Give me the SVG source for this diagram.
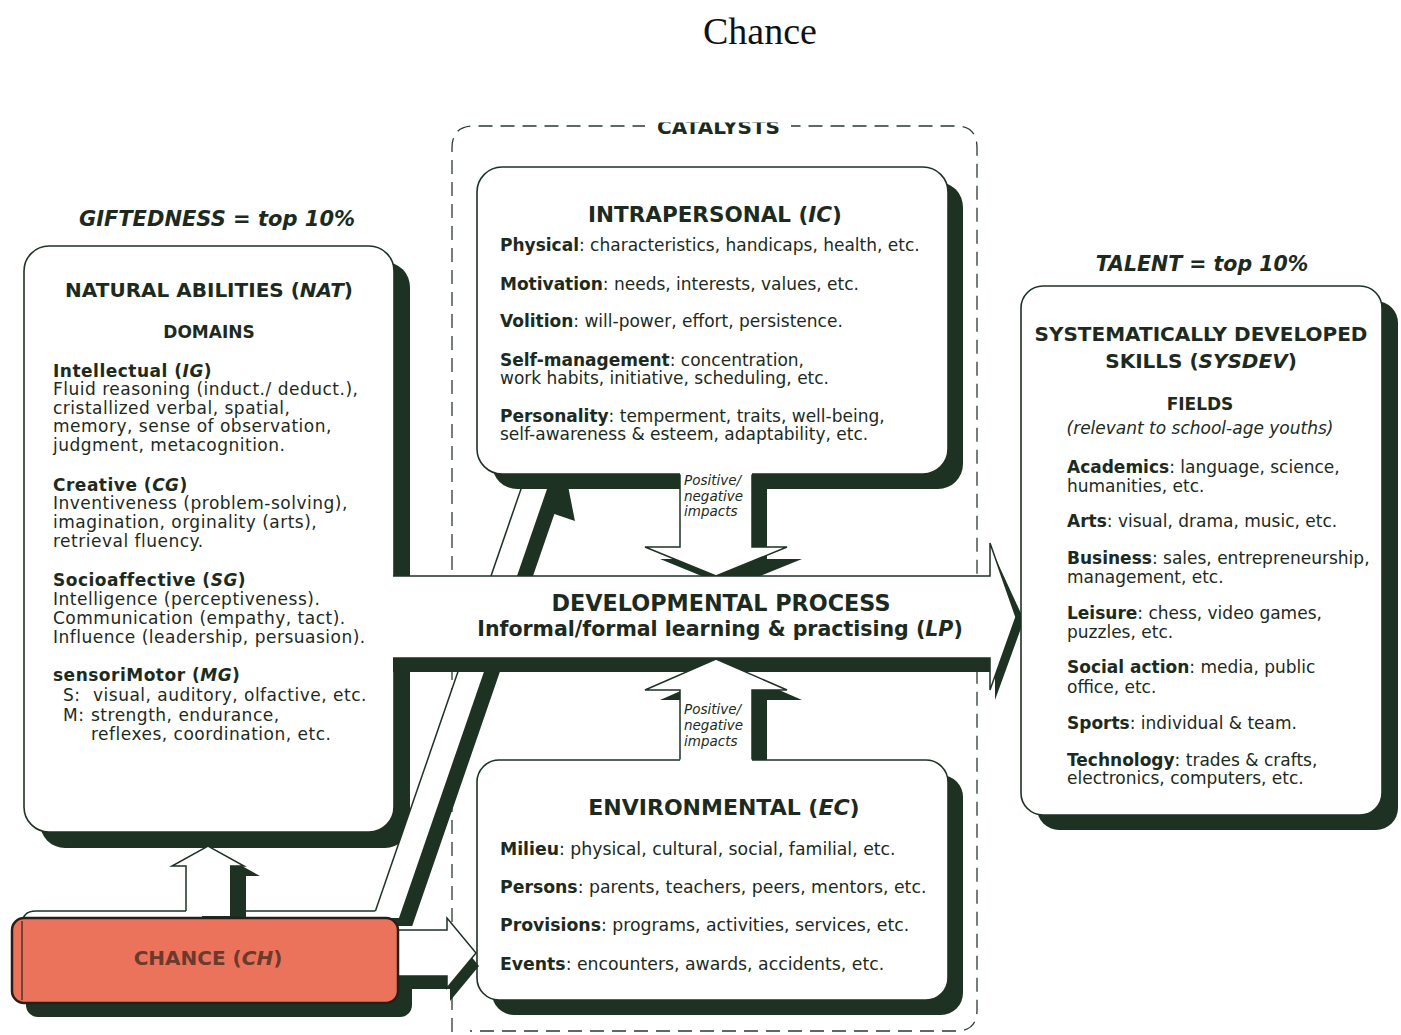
<svg xmlns="http://www.w3.org/2000/svg" width="1401" height="1035" viewBox="0 0 1401 1035">
  <defs>
    <style>
      .ink{fill:#1e3224}
      .box{fill:#fff;stroke:#1e3224;stroke-width:1.6}
      .wf{fill:#fff}
      .line{fill:none;stroke:#1e3224;stroke-width:1.5;stroke-linejoin:miter}
      .dash{fill:none;stroke:#2a3a2e;stroke-width:1.3;stroke-dasharray:14 8}
      text{font-family:"DejaVu Sans","Liberation Sans",sans-serif;fill:#1c2a20}
      .tx{font-size:17px}
      .nt{font-size:17px;letter-spacing:0.5px}
      .et{font-size:17.3px}
      .hd{font-size:21px;font-weight:bold}
      .sub{font-size:17px;font-weight:bold}
      .b{font-weight:bold}
      .i{font-style:italic}
      .imp{font-size:13.5px;font-style:italic}
      .tag{font-size:21px;font-weight:bold;font-style:italic}
    </style>
    <clipPath id="catClip"><rect x="600" y="122.5" width="240" height="30"/></clipPath>
  </defs>

  <rect x="0" y="0" width="1401" height="1035" fill="#fff"/>

  <!-- page title -->
  <text x="760" y="44" text-anchor="middle" style="font-family:'Liberation Serif','Times New Roman',serif;font-size:38px;fill:#111">Chance</text>

  <!-- catalysts frame -->
  <g id="catalysts-frame">
    <path class="dash" d="M452,1032 V148 Q452,126 474,126 H956 Q977,126 977,148 V1010 Q977,1031 956,1031 H470"/>
    <rect x="645" y="114" width="146" height="22" fill="#fff"/>
    <text x="657" y="134" class="b" style="font-size:20px" textLength="123" lengthAdjust="spacing" clip-path="url(#catClip)">CATALYSTS</text>
  </g>

  <!-- connectors: block arrows -->
  <g id="connectors">
    <!-- natural abilities shadow sits under the chance arrows -->
    <rect class="ink" x="40" y="262" width="370" height="586" rx="25"/>

    <!-- chance -> natural abilities -->
    <g id="arrow-ch-nat">
      <polygon class="ink" points="202,924 202,876 188,876 224,856 260,876 246,876 246,924"/>
      <polygon class="wf" points="186,916 186,866 172,866 208,846 244,866 230,866 230,916"/>
      <path class="line" d="M186,911 V866 H172 L208,846 L244,866 H230"/>
      <path class="line" d="M22,940 V925 Q22,911 36,911 H186"/>
      <path class="line" d="M246,911 H376"/>
    </g>

    <!-- chance -> intrapersonal (diagonal, drawn upright then sheared) -->
    <g id="arrow-ch-ic" transform="matrix(1 0 -0.345 1 715.7 0)">
      <polygon class="ink" points="-10,926 -10,486 20,486 39,521 16,514 16,926"/>
      <polygon class="wf" points="-26,918 -26,484 0,484 0,918"/>
      <path class="line" vector-effect="non-scaling-stroke" d="M-26,911 V484"/>
    </g>
  </g>

  <!-- natural abilities -->
  <g id="nat">
    <rect class="box" x="24" y="246" width="370" height="586" rx="25"/>
    <text class="hd" x="209" y="297" text-anchor="middle" style="font-size:20px">NATURAL ABILITIES (<tspan class="i">NAT</tspan>)</text>
    <text class="sub" x="209" y="338" text-anchor="middle">DOMAINS</text>
    <text class="nt" x="53" y="377"><tspan class="b">Intellectual (<tspan class="i">IG</tspan>)</tspan></text>
    <text class="nt" x="53" y="395">Fluid reasoning (induct./ deduct.),</text>
    <text class="nt" x="53" y="414">cristallized verbal, spatial,</text>
    <text class="nt" x="53" y="432">memory, sense of observation,</text>
    <text class="nt" x="53" y="451">judgment, metacognition.</text>
    <text class="nt" x="53" y="491"><tspan class="b">Creative (<tspan class="i">CG</tspan>)</tspan></text>
    <text class="nt" x="53" y="509">Inventiveness (problem-solving),</text>
    <text class="nt" x="53" y="528">imagination, orginality (arts),</text>
    <text class="nt" x="53" y="547">retrieval fluency.</text>
    <text class="nt" x="53" y="586"><tspan class="b">Socioaffective (<tspan class="i">SG</tspan>)</tspan></text>
    <text class="nt" x="53" y="605">Intelligence (perceptiveness).</text>
    <text class="nt" x="53" y="624">Communication (empathy, tact).</text>
    <text class="nt" x="53" y="643">Influence (leadership, persuasion).</text>
    <text class="nt" x="53" y="681"><tspan class="b">sensoriMotor (<tspan class="i">MG</tspan>)</tspan></text>
    <text class="nt" x="63" y="701">S:</text>
    <text class="nt" x="93" y="701">visual, auditory, olfactive, etc.</text>
    <text class="nt" x="63" y="721">M:</text>
    <text class="nt" x="91" y="721">strength, endurance,</text>
    <text class="nt" x="91" y="740">reflexes, coordination, etc.</text>
  </g>

  <!-- intrapersonal catalysts -->
  <g id="ic">
    <rect class="ink" x="492" y="182" width="471" height="307" rx="25"/>
    <polygon class="ink" points="695,484 695,559 660,559 731,588 802,559 767,559 767,484"/>
    <rect class="box" x="477" y="167" width="471" height="307" rx="25"/>
    <polygon class="wf" points="680,472 680,547 645,547 716,576 787,547 752,547 752,472"/>
    <path class="line" d="M680,474.5 V547 H645 L716,576 L787,547 H752 V474.5"/>
    <text class="hd" x="715" y="222" text-anchor="middle" style="font-size:21.5px">INTRAPERSONAL (<tspan class="i">IC</tspan>)</text>
    <text class="tx" x="500" y="251"><tspan class="b">Physical</tspan>: characteristics, handicaps, health, etc.</text>
    <text class="tx" x="500" y="290"><tspan class="b">Motivation</tspan>: needs, interests, values, etc.</text>
    <text class="tx" x="500" y="327"><tspan class="b">Volition</tspan>: will-power, effort, persistence.</text>
    <text class="tx" x="500" y="366"><tspan class="b">Self-management</tspan>: concentration,</text>
    <text class="tx" x="500" y="384">work habits, initiative, scheduling, etc.</text>
    <text class="tx" x="500" y="422"><tspan class="b">Personality</tspan>: temperment, traits, well-being,</text>
    <text class="tx" x="500" y="440">self-awareness &amp; esteem, adaptability, etc.</text>
    <text class="imp" x="684" y="485">Positive/</text>
    <text class="imp" x="684" y="501">negative</text>
    <text class="imp" x="684" y="516">impacts</text>
  </g>

  <!-- environmental catalysts -->
  <g id="ec">
    <rect class="ink" x="492" y="775" width="471" height="240" rx="22"/>
    <polygon class="ink" points="695,772 695,700 660,700 731,669 802,700 767,700 767,772"/>
    <rect class="box" x="477" y="760" width="471" height="240" rx="22"/>
    <polygon class="wf" points="680,762 680,690 645,690 716,659 787,690 752,690 752,762"/>
    <path class="line" d="M680,759.5 V690 H645 L716,659 L787,690 H752 V759.5"/>
    <text class="imp" x="684" y="714">Positive/</text>
    <text class="imp" x="684" y="730">negative</text>
    <text class="imp" x="684" y="746">impacts</text>
    <text class="hd" x="724" y="815" text-anchor="middle" style="font-size:22px">ENVIRONMENTAL (<tspan class="i">EC</tspan>)</text>
    <text class="et" x="500" y="855"><tspan class="b">Milieu</tspan>: physical, cultural, social, familial, etc.</text>
    <text class="et" x="500" y="893"><tspan class="b">Persons</tspan>: parents, teachers, peers, mentors, etc.</text>
    <text class="et" x="500" y="931"><tspan class="b">Provisions</tspan>: programs, activities, services, etc.</text>
    <text class="et" x="500" y="970"><tspan class="b">Events</tspan>: encounters, awards, accidents, etc.</text>
  </g>

  <!-- developmental process arrow -->
  <g id="lp">
    <polygon class="ink" points="393,590 995,590 995,557 1024,620 995,700 995,672 745.8,672 716,659 686.2,672 393,672"/>
    <polygon class="wf" points="392,576 990,576 990,543 1016,617 990,690 990,658 392,658"/>
    <path class="line" d="M393,576 H990 V543 L1016,617 L990,690 V658 H393"/>
    <text class="hd" x="721" y="611" text-anchor="middle" style="font-size:22.3px">DEVELOPMENTAL PROCESS</text>
    <text class="hd" x="720" y="636" text-anchor="middle" style="font-size:20.5px">Informal/formal learning &amp; practising (<tspan class="i">LP</tspan>)</text>
  </g>

  <!-- chance -->
  <g id="chance">
    <rect class="ink" x="26" y="932" width="386" height="85" rx="12"/>
    <polygon class="ink" points="398,943 450,943 450,931 479,966 450,1001 450,989 398,989"/>
    <polygon class="wf" points="396,930 447,930 447,918 476,953 447,988 447,976 396,976"/>
    <path class="line" d="M398,930 H447 V918 L476,953 L447,988 V976 H398"/>
    <rect x="12" y="918" width="386" height="85" rx="12" fill="#ec735b" stroke="#2a1f18" stroke-width="2.5"/>
    <line x1="22" y1="921" x2="22" y2="1000" stroke="#3a2a20" stroke-width="1.3"/>
    <text x="208" y="965" text-anchor="middle" style="font-size:20px;font-weight:bold;fill:#6a3a2c">CHANCE (<tspan class="i">CH</tspan>)</text>
  </g>

  <!-- talent -->
  <g id="sysdev">
    <rect class="ink" x="1037" y="301" width="361" height="529" rx="22"/>
    <rect class="box" x="1021" y="286" width="361" height="529" rx="22"/>
    <text class="hd" x="1201" y="341" text-anchor="middle" style="font-size:20px">SYSTEMATICALLY DEVELOPED</text>
    <text class="hd" x="1201" y="368" text-anchor="middle" style="font-size:20px">SKILLS (<tspan class="i">SYSDEV</tspan>)</text>
    <text class="sub" x="1200" y="410" text-anchor="middle">FIELDS</text>
    <text class="tx i" x="1200" y="434" text-anchor="middle">(relevant to school-age youths)</text>
    <text class="tx" x="1067" y="473"><tspan class="b">Academics</tspan>: language, science,</text>
    <text class="tx" x="1067" y="492">humanities, etc.</text>
    <text class="tx" x="1067" y="527"><tspan class="b">Arts</tspan>: visual, drama, music, etc.</text>
    <text class="tx" x="1067" y="564"><tspan class="b">Business</tspan>: sales, entrepreneurship,</text>
    <text class="tx" x="1067" y="583">management, etc.</text>
    <text class="tx" x="1067" y="619"><tspan class="b">Leisure</tspan>: chess, video games,</text>
    <text class="tx" x="1067" y="638">puzzles, etc.</text>
    <text class="tx" x="1067" y="673"><tspan class="b">Social action</tspan>: media, public</text>
    <text class="tx" x="1067" y="693">office, etc.</text>
    <text class="tx" x="1067" y="729"><tspan class="b">Sports</tspan>: individual &amp; team.</text>
    <text class="tx" x="1067" y="766"><tspan class="b">Technology</tspan>: trades &amp; crafts,</text>
    <text class="tx" x="1067" y="784">electronics, computers, etc.</text>
  </g>

  <!-- level labels -->
  <g id="labels">
    <text class="tag" x="217" y="226" text-anchor="middle">GIFTEDNESS = top 10%</text>
    <text class="tag" x="1202" y="271" text-anchor="middle" style="font-size:20.5px">TALENT = top 10%</text>
  </g>
</svg>
